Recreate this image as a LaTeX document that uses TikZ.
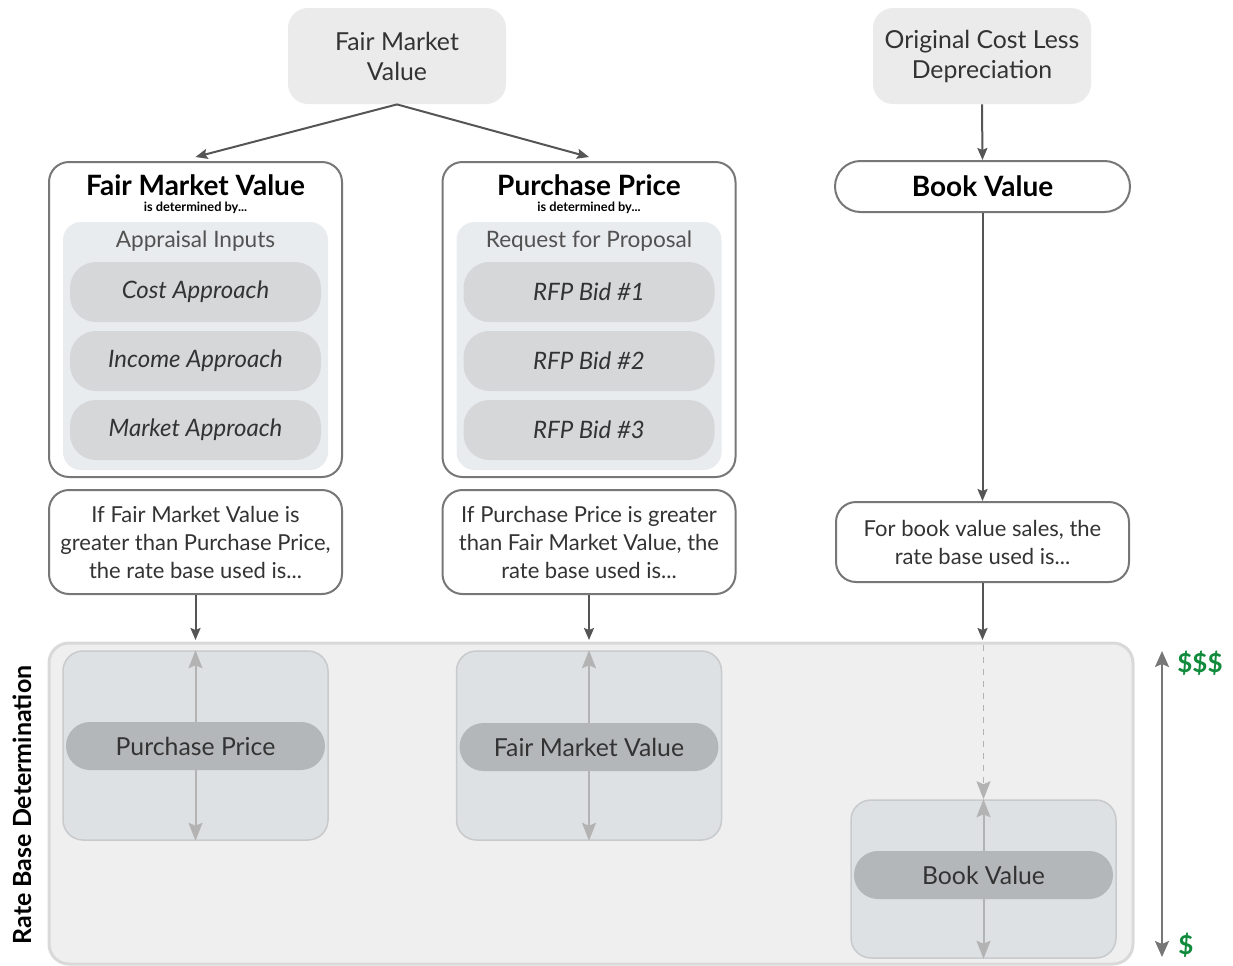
\documentclass[tikz,border=0pt]{standalone}
\usepackage{fontspec}
\setmainfont{Lato}
\usepackage{tikz}
\usetikzlibrary{arrows.meta,positioning}
\definecolor{edgegray}{HTML}{777777}
\definecolor{arrowgray}{HTML}{555555}
\definecolor{softgray}{HTML}{EBEBEB}
\definecolor{innergray}{HTML}{E8ECEE}
\definecolor{pillgray}{HTML}{D5D7D8}
\definecolor{zonegray}{HTML}{EFEFEF}
\definecolor{zoneedge}{HTML}{D9D9D9}
\definecolor{ratebox}{HTML}{DDE1E4}
\definecolor{rateedge}{HTML}{C8CACC}
\definecolor{ratepill}{HTML}{B4B7B9}
\definecolor{lightarrow}{HTML}{B3B3B3}
\definecolor{money}{HTML}{108A3B}
\definecolor{txt}{HTML}{333333}
\tikzset{
  topbox/.style   = {fill=softgray, rounded corners=10pt, minimum width=109pt,
                     minimum height=48pt, align=center, font=\fontsize{12.4}{15}\selectfont,
                     text=txt},
  panel/.style    = {draw=edgegray, line width=1pt, fill=white, rounded corners=10pt,
                     minimum width=146.5pt, minimum height=157.5pt},
  innerbox/.style = {fill=innergray, rounded corners=9pt, minimum width=132.5pt,
                     minimum height=124pt},
  pill/.style     = {fill=pillgray, rounded corners=13pt, minimum width=125.5pt,
                     minimum height=30pt, font=\fontsize{12}{13}\selectfont\itshape, text=txt},
  headtext/.style = {font=\fontsize{14}{15}\selectfont\bfseries},
  subtext/.style  = {font=\fontsize{6.4}{7}\selectfont\bfseries},
  groupcap/.style = {font=\fontsize{11.3}{12}\selectfont, text=txt!85},
  cond/.style     = {draw=edgegray, line width=1pt, fill=white, rounded corners=10pt,
                     minimum width=146.5pt, minimum height=52pt, align=center,
                     font=\fontsize{11}{14}\selectfont, text=txt},
  bvhead/.style   = {draw=edgegray, line width=1pt, fill=white, rounded corners=12.75pt,
                     minimum width=147.5pt, minimum height=25.5pt,
                     font=\fontsize{14}{15}\selectfont\bfseries},
  zone/.style     = {draw=zoneedge, line width=1.5pt, fill=zonegray, rounded corners=10pt},
  rbox/.style     = {draw=rateedge, line width=0.75pt, fill=ratebox, rounded corners=10pt,
                     minimum width=132.5pt, minimum height=94.5pt},
  rpill/.style    = {fill=ratepill, rounded corners=12pt, minimum width=129.5pt,
                     minimum height=24pt, font=\fontsize{12.4}{14}\selectfont, text=txt},
  link/.style     = {-{Stealth[length=6pt,width=5pt,inset=1pt]}, arrowgray, line width=1pt},
  spread/.style   = {-{Stealth[length=9pt,width=7pt,inset=1.5pt]}, lightarrow, line width=1pt},
  cash/.style     = {text=money, font=\fontsize{13}{14}\selectfont\bfseries},
}

\begin{document}
\begin{tikzpicture}[x=0.5pt,y=-0.5pt]
  \useasboundingbox (0,0) rectangle (1233,965);
  % sources
  \node[topbox] (fmvTop) at (397,56) {Fair Market\\Value};
  \node[topbox] (oclTop) at (982,56) {Original Cost Less\\Depreciation};

  % fair market value panel
  \node[panel] (fmvPanel) at (195.5,319.5) {};
  \node[innerbox] (fmvInner) at (195.5,346) {};
  \node[headtext] (fmvHead) at (195.5,185) {Fair Market Value};
  \node[subtext] (fmvSub) at (195.5,208) {is determined by...};
  \node[groupcap] (fmvCap) at (195.5,241) {Appraisal Inputs};
  \node[pill] (costA) at (195.5,292) {Cost Approach};
  \node[pill] (incA) at (195.5,361) {Income Approach};
  \node[pill] (mktA) at (195.5,430) {Market Approach};

  % purchase price panel
  \node[panel] (ppPanel) at (589,319.5) {};
  \node[innerbox] (ppInner) at (589,346) {};
  \node[headtext] (ppHead) at (589,185) {Purchase Price};
  \node[subtext] (ppSub) at (589,208) {is determined by...};
  \node[groupcap] (ppCap) at (589,241) {Request for Proposal};
  \node[pill] (bid1) at (589,292) {RFP Bid \#1};
  \node[pill] (bid2) at (589,361) {RFP Bid \#2};
  \node[pill] (bid3) at (589,430) {RFP Bid \#3};

  % book value
  \node[bvhead] (bvHead) at (982.5,186.5) {Book Value};

  % conditions
  \node[cond] (condA) at (195.5,542) {If Fair Market Value is\\greater than Purchase Price,\\the rate base used is...};
  \node[cond] (condB) at (589,542) {If Purchase Price is greater\\than Fair Market Value, the\\rate base used is...};
  \node[cond,minimum height=40pt] (condC) at (982.5,542) {For book value sales, the\\rate base used is...};

  % rate base zone
  \draw[zone] (49,643) rectangle (1133,964);
  \coordinate (zoneTop) at (0,643);
  \node[rbox] (rA) at (195.5,745.5) {};
  \node[rbox] (rB) at (589,745.5) {};
  \node[rbox,minimum height=79pt] (rC) at (983.5,879) {};
  \node[rpill] (pA) at (195.5,746) {Purchase Price};
  \node[rpill] (pB) at (589,747) {Fair Market Value};
  \node[rpill] (pC) at (983.5,875) {Book Value};
  \foreach \p/\b in {pA/rA,pB/rB,pC/rC} {
    \draw[spread] (\p.north) -- (\b.north);
    \draw[spread] (\p.south) -- (\b.south);
  }
  \draw[spread,dashed,line width=0.75pt] (983.5,645) -- (rC.north);

  % connectors
  \draw[link] (fmvTop.south) -- ([yshift=2pt]fmvPanel.north);
  \draw[link] (fmvTop.south) -- ([yshift=2pt]ppPanel.north);
  \draw[link] (oclTop.south) -- (bvHead.north);
  \draw[link] (bvHead.south) -- (condC.north);
  \foreach \c in {condA,condB,condC}
    \draw[link] (\c.south) -- ([yshift=1.5pt]\c.south |- zoneTop);

  % scale
  \coordinate (hi) at (1162,651);
  \coordinate (lo) at (1162,957);
  \draw[{Stealth[length=8pt,width=7pt,inset=1.5pt]}-{Stealth[length=8pt,width=7pt,inset=1.5pt]},edgegray,line width=1pt] (hi) -- (lo);
  \node[cash] (more) at (1200,663) {\$\$\$};
  \node[cash] (less) at (1186,945) {\$};
  \node[rotate=90,font=\fontsize{12.5}{13}\selectfont\bfseries] (rbd) at (22,805) {Rate Base Determination};
\end{tikzpicture}
\end{document}
